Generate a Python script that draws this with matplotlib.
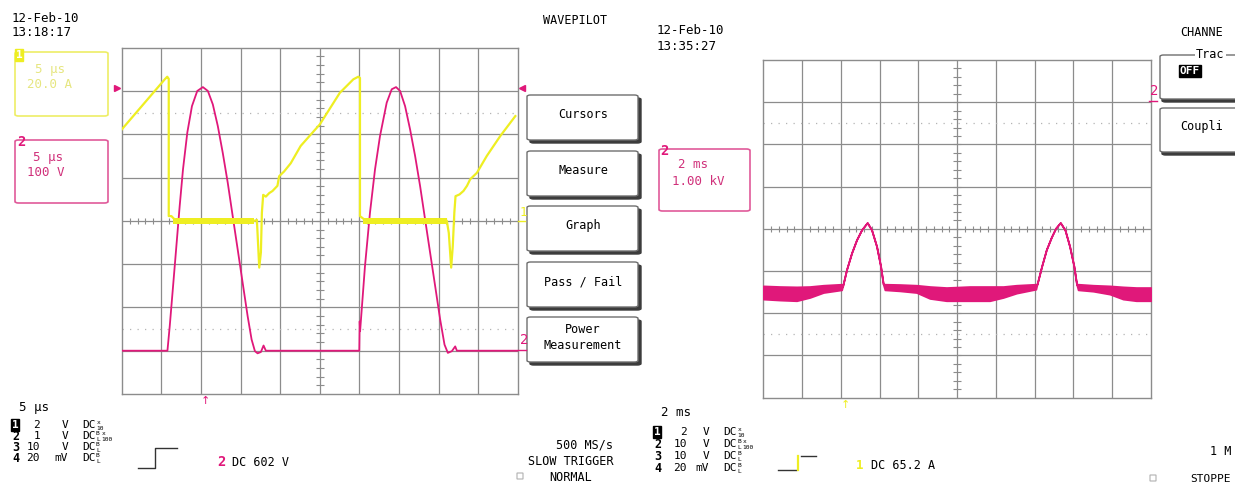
import numpy as np
import matplotlib.pyplot as plt
from matplotlib.patches import Rectangle, FancyBboxPatch
from matplotlib.lines import Line2D

W, H = 1235, 486
MAG = '#e0187a'
YEL = '#eeee22'
GRID = '#8c8c8c'
FONT = 'DejaVu Sans Mono'

# ---- left screen (5 us/div), values in screen divisions ----
# channel 2 (voltage, magenta)
left_v_x = [0, 0.5, 1.155, 1.213, 1.297, 1.381, 1.464, 1.548, 1.657, 1.774, 1.908, 2.05,
            2.176, 2.301, 2.427, 2.552, 2.678, 2.803, 2.929, 3.054, 3.18, 3.28, 3.364,
            3.431, 3.515, 3.582, 3.64, 5.0, 6.0, 6.01, 6.02, 6.143, 6.27, 6.397, 6.523,
            6.692, 6.819, 6.928, 7.03, 7.156, 7.283, 7.409, 7.536, 7.662, 7.789, 7.916,
            8.042, 8.152, 8.236, 8.338, 8.422, 8.464, 10.0]
left_v_y = [1.0, 1.0, 1.0, 1.567, 2.49, 3.42, 4.34, 5.19, 6.04, 6.65, 7.0, 7.09,
            7.0, 6.69, 6.19, 5.57, 4.88, 4.11, 3.34, 2.57, 1.80, 1.26, 0.99,
            0.94, 0.97, 1.12, 1.0, 1.0, 1.0, 1.68, 1.45, 2.95, 4.19, 5.19, 5.96,
            6.73, 7.04, 7.09, 7.0, 6.65, 6.11, 5.50, 4.80, 4.03, 3.26, 2.49,
            1.72, 1.14, 0.95, 0.99, 1.10, 1.0, 1.0]
# channel 1 (current, yellow)
left_i_x = [0, 1.088, 1.13, 1.15, 1.188, 1.188, 1.255, 1.339, 1.423, 3.347, 3.414, 3.473,
            3.515, 3.54, 3.573, 3.64, 3.724, 3.808, 3.933, 3.975, 4.10, 4.268, 4.519,
            5.004, 5.51, 5.85, 5.975, 6.017, 6.017, 6.1, 6.27, 8.21, 8.26, 8.32, 8.36,
            8.40, 8.43, 8.53, 8.63, 8.72, 8.80, 8.97, 9.22, 9.56, 9.94]
left_i_y = [6.11, 7.27, 7.31, 7.33, 7.28, 4.11, 4.11, 4.03, 4.0, 4.0, 4.02, 2.92,
            3.27, 4.19, 4.6, 4.56, 4.64, 4.69, 4.81, 5.03, 5.14, 5.33, 5.73,
            6.23, 6.96, 7.27, 7.33, 7.3, 4.11, 4.05, 3.96, 4.0, 3.72, 2.92, 3.41,
            4.19, 4.57, 4.61, 4.69, 4.81, 4.96, 5.11, 5.50, 5.96, 6.42]
# noisy flat parts of channel 1
left_i_band_start = [1.30, 6.10]
left_i_band_end = [3.35, 8.21]
left_i_band_lo = 3.93
left_i_band_hi = 4.07

# ---- right screen (2 ms/div), channel 2 envelope ----
right_x = [0, 0.43, 0.86, 1.2, 1.55, 2.02, 2.045, 2.148, 2.277, 2.405, 2.534, 2.68,
           2.792, 2.921, 3.024, 3.093, 3.136, 3.522, 3.952, 4.296, 4.725, 5.33, 5.84,
           6.19, 6.53, 7.03, 7.06, 7.18, 7.30, 7.43, 7.54, 7.66, 7.78, 7.90, 8.01,
           8.08, 8.12, 8.51, 8.94, 9.28, 9.62, 10.0]
right_top = [2.648, 2.633, 2.625, 2.633, 2.664, 2.688, 2.64, 3.039, 3.43, 3.742, 3.977, 4.148,
             3.977, 3.586, 3.117, 2.688, 2.688, 2.68, 2.664, 2.633, 2.609, 2.633, 2.633,
             2.633, 2.664, 2.688, 2.688, 3.117, 3.508, 3.805, 4.016, 4.148, 3.977, 3.586, 3.117,
             2.688, 2.688, 2.664, 2.648, 2.625, 2.609, 2.609]
right_bot = [2.336, 2.313, 2.297, 2.375, 2.492, 2.555, 2.64, 3.039, 3.43, 3.742, 3.977, 4.148,
             3.977, 3.586, 3.117, 2.688, 2.555, 2.531, 2.492, 2.352, 2.297, 2.297, 2.297,
             2.375, 2.477, 2.57, 2.688, 3.117, 3.508, 3.805, 4.016, 4.148, 3.977, 3.586, 3.117,
             2.688, 2.555, 2.523, 2.453, 2.336, 2.297, 2.297]

# ---- labels ----
left_rows = [('1', '2', 'V', 'x10'), ('2', '1', 'V', 'BLx100'), ('3', '10', 'V', 'BL'), ('4', '20', 'mV', 'BL')]
right_rows = [('1', '2', 'V', 'x10'), ('2', '10', 'V', 'BLx100'), ('3', '10', 'V', 'BL'), ('4', '20', 'mV', 'BL')]
buttons = ['Cursors', 'Measure', 'Graph', 'Pass / Fail', 'Power\nMeasurement']

fig = plt.figure(figsize=(W / 100, H / 100), dpi=100)


def fx(x):
    return x / W


def fy(y):
    return 1 - y / H


def T(x, y, s, size=9, color='black', ha='left', weight='normal', **kw):
    fig.text(fx(x), fy(y), s, fontsize=size, color=color, ha=ha, va='center',
             family=FONT, weight=weight, **kw)


def box(x, y, w, h, ec, fc='none', lw=1.0, r=0.0):
    fig.add_artist(FancyBboxPatch((fx(x), fy(y + h)), w / W, h / H,
                                  boxstyle='round,pad=0,rounding_size=%g' % r,
                                  transform=fig.transFigure, ec=ec, fc=fc, lw=lw))


def seg(xs, ys, color='black', lw=1.0):
    fig.add_artist(Line2D([fx(v) for v in xs], [fy(v) for v in ys],
                          transform=fig.transFigure, color=color, lw=lw))


def screen(x0, y0, x1, y1):
    ax = fig.add_axes([fx(x0), fy(y1), (x1 - x0) / W, (y1 - y0) / H])
    ax.set_xlim(0, 10)
    ax.set_ylim(0, 8)
    ax.set_xticks([])
    ax.set_yticks([])
    for s in ax.spines.values():
        s.set_color(GRID)
        s.set_linewidth(1.0)
    for i in range(1, 10):
        ax.axvline(i, color=GRID, lw=0.9, zorder=1)
    for j in range(1, 8):
        ax.axhline(j, color=GRID, lw=0.9, zorder=1)
    ax.hlines([1.5, 6.5], 0, 10, colors='#b4b4b4', lw=0.9, linestyles=(0, (1, 5)), zorder=1)
    ax.vlines(np.arange(0.2, 10, 0.2), 3.93, 4.07, colors=GRID, lw=0.8, zorder=1)
    ax.hlines(np.arange(0.2, 8, 0.2), 4.9, 5.1, colors=GRID, lw=0.8, zorder=1)
    return ax


# ================= left screen =================
axL = screen(121.7, 47.7, 517.7, 394)
axL.plot(left_v_x, left_v_y, color=MAG, lw=1.3, zorder=3)
axL.plot(left_i_x, left_i_y, color=YEL, lw=1.6, zorder=4)
for a, b in zip(left_i_band_start, left_i_band_end):
    axL.fill_between([a, b], left_i_band_lo, left_i_band_hi, color=YEL, lw=0, zorder=4)
axL.plot([-0.12], [7.07], marker='>', ms=4, color=MAG, clip_on=False)
axL.plot([10.12], [7.07], marker='<', ms=4, color=MAG, clip_on=False)

T(12, 18, '12-Feb-10')
T(12, 33, '13:18:17')

box(15, 52, 93, 64, '#eeee66', lw=1.2, r=0.003)
T(16, 55, '1', size=8, color='white', weight='bold',
  bbox=dict(boxstyle='square,pad=0.05', fc=YEL, ec=YEL))
T(35, 69, '5 µs', color='#e6e680')
T(27, 85, '20.0 A', color='#e6e680')

box(15, 140, 93, 63, '#e05a9a', lw=1.2, r=0.003)
T(17, 142, '2', size=10, color=MAG, weight='bold')
T(33, 157, '5 µs', color='#d0307a')
T(27, 172, '100 V', color='#d0307a')

T(575, 21, 'WAVEPILOT', size=8.5, ha='center')
T(520, 213, '1', size=9, color=YEL)
seg([518, 525], [221, 221], YEL, 1.0)
T(520, 340, '2', size=10, color=MAG)
seg([518, 526], [350, 350], MAG, 1.0)

tops = [95, 151, 206, 262, 317]
for top, lab in zip(tops, buttons):
    box(530, top + 3, 111, 45, '#3c3c3c', fc='#3c3c3c', r=0.003)
    box(527, top, 111, 45, '#6e6e6e', fc='white', lw=1.0, r=0.003)
    T(583, top + 20, lab, size=8.5, ha='center', linespacing=1.3, multialignment='center')

fig.text(fx(205), fy(401), '↑', fontsize=8, color=MAG, ha='center', va='center', family='DejaVu Sans')

T(19, 407, '5 µs')
for k, (n, v, u, tag) in enumerate(left_rows):
    y = 425 + 11 * k
    if n == '1':
        T(12, y, n, size=8, color='white', weight='bold',
          bbox=dict(boxstyle='square,pad=0.05', fc='black', ec='black'))
    else:
        T(12, y, n, size=8.5, weight='bold')
    T(40, y, v, size=8, ha='right')
    T(68, y, u, size=8, ha='right')
    T(82, y, 'DC', size=8)
    xt = 96
    if tag.startswith('BL'):
        T(xt, y - 3, 'B', size=4.5)
        T(xt, y + 3, 'L', size=4.5)
        xt += 5
    if 'x' in tag:
        T(xt + 1, y - 3, 'x', size=4.5)
        T(xt, y + 3, tag[tag.index('x') + 1:], size=4.5)

seg([138, 155, 155, 177], [468, 468, 448, 448], '#333333', 1.0)
T(217, 462, '2', size=10, color=MAG, weight='bold')
T(232, 462, 'DC 602 V', size=8.5)
T(584, 445, '500 MS/s', size=8.5, ha='center')
T(571, 461, 'SLOW TRIGGER', size=8.5, ha='center')
T(571, 477, 'NORMAL', size=8.5, ha='center')
box(517, 473, 6, 6, '#b0b0b0', lw=0.8)

# ================= right screen =================
axR = screen(763.3, 60, 1151, 397.7)
axR.fill_between(right_x, right_bot, right_top, color=MAG, ec=MAG, lw=1.3, zorder=3)

T(657, 31, '12-Feb-10')
T(657, 46, '13:35:27')

box(659, 149, 91, 62, '#e05a9a', lw=1.2, r=0.003)
T(660, 151, '2', size=10, color=MAG, weight='bold')
T(678, 165, '2 ms', color='#d0307a')
T(672, 181, '1.00 kV', color='#d0307a')

T(1150, 91, '2', size=10, color=MAG)
seg([1149, 1157], [101, 101], MAG, 1.0)

T(1180, 33, 'CHANNE', size=8.5)
box(1162, 58, 90, 44, '#3c3c3c', fc='#3c3c3c', r=0.003)
box(1160, 55, 90, 44, '#6e6e6e', fc='white', r=0.003)
T(1196, 55, 'Trac', size=8.5, bbox=dict(boxstyle='square,pad=0.1', fc='white', ec='none'))
T(1180, 71, 'OFF', size=8, color='white', weight='bold',
  bbox=dict(boxstyle='square,pad=0.1', fc='black', ec='black'))
box(1162, 111, 90, 44, '#3c3c3c', fc='#3c3c3c', r=0.003)
box(1160, 108, 90, 44, '#6e6e6e', fc='white', r=0.003)
T(1180, 126, 'Coupli', size=8.5)

fig.text(fx(845), fy(405), '↑', fontsize=8, color=YEL, ha='center', va='center', family='DejaVu Sans')

T(661, 412, '2 ms')
for k, (n, v, u, tag) in enumerate(right_rows):
    y = 432 + 12 * k
    if n == '1':
        T(654, y, n, size=8, color='white', weight='bold',
          bbox=dict(boxstyle='square,pad=0.05', fc='black', ec='black'))
    else:
        T(654, y, n, size=8.5, weight='bold')
    T(687, y, v, size=8, ha='right')
    T(709, y, u, size=8, ha='right')
    T(723, y, 'DC', size=8)
    xt = 737
    if tag.startswith('BL'):
        T(xt, y - 3, 'B', size=4.5)
        T(xt, y + 3, 'L', size=4.5)
        xt += 5
    if 'x' in tag:
        T(xt + 1, y - 3, 'x', size=4.5)
        T(xt, y + 3, tag[tag.index('x') + 1:], size=4.5)

seg([778, 796], [470, 470], '#333333', 1.0)
seg([798, 798], [470, 456], YEL, 1.6)
seg([801, 816], [456, 456], '#333333', 1.0)
T(856, 465, '1', size=9, color=YEL, weight='bold')
T(871, 465, 'DC 65.2 A', size=8.5)
T(1210, 451, '1 M', size=8.5)
T(1190, 479, 'STOPPE', size=8)
box(1150, 475, 6, 6, '#b0b0b0', lw=0.8)

fig.savefig('out.png', dpi=100)
